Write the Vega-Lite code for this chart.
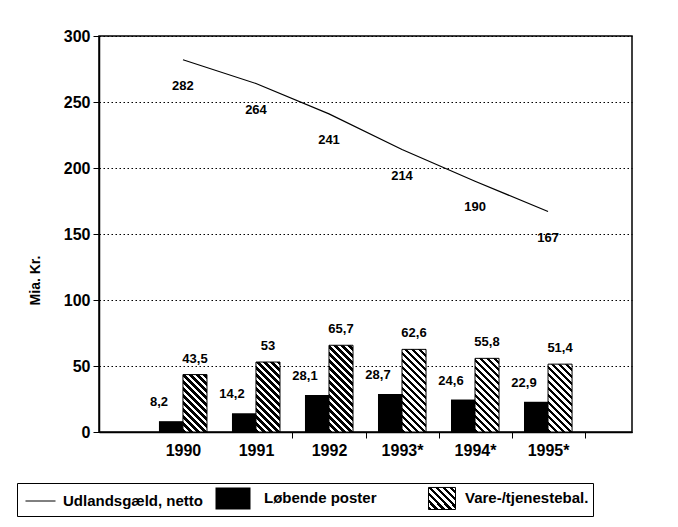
{
  "$schema": "https://vega.github.io/schema/vega-lite/v6.json",
  "width": 533,
  "height": 396,
  "autosize": {"type": "none"},
  "padding": {"left": 99, "top": 36, "right": 46, "bottom": 95},
  "background": "white",
  "params": [
    {"name": "hatchStops", "value": [
      {"offset":0,"color":"#000"},{"offset":0.032353,"color":"#000"},{"offset":0.032353,"color":"#fff"},{"offset":0.058824,"color":"#fff"},
      {"offset":0.058824,"color":"#000"},{"offset":0.091176,"color":"#000"},{"offset":0.091176,"color":"#fff"},{"offset":0.117647,"color":"#fff"},
      {"offset":0.117647,"color":"#000"},{"offset":0.15,"color":"#000"},{"offset":0.15,"color":"#fff"},{"offset":0.176471,"color":"#fff"},
      {"offset":0.176471,"color":"#000"},{"offset":0.208824,"color":"#000"},{"offset":0.208824,"color":"#fff"},{"offset":0.235294,"color":"#fff"},
      {"offset":0.235294,"color":"#000"},{"offset":0.267647,"color":"#000"},{"offset":0.267647,"color":"#fff"},{"offset":0.294118,"color":"#fff"},
      {"offset":0.294118,"color":"#000"},{"offset":0.326471,"color":"#000"},{"offset":0.326471,"color":"#fff"},{"offset":0.352941,"color":"#fff"},
      {"offset":0.352941,"color":"#000"},{"offset":0.385294,"color":"#000"},{"offset":0.385294,"color":"#fff"},{"offset":0.411765,"color":"#fff"},
      {"offset":0.411765,"color":"#000"},{"offset":0.444118,"color":"#000"},{"offset":0.444118,"color":"#fff"},{"offset":0.470588,"color":"#fff"},
      {"offset":0.470588,"color":"#000"},{"offset":0.502941,"color":"#000"},{"offset":0.502941,"color":"#fff"},{"offset":0.529412,"color":"#fff"},
      {"offset":0.529412,"color":"#000"},{"offset":0.561765,"color":"#000"},{"offset":0.561765,"color":"#fff"},{"offset":0.588235,"color":"#fff"},
      {"offset":0.588235,"color":"#000"},{"offset":0.620588,"color":"#000"},{"offset":0.620588,"color":"#fff"},{"offset":0.647059,"color":"#fff"},
      {"offset":0.647059,"color":"#000"},{"offset":0.679412,"color":"#000"},{"offset":0.679412,"color":"#fff"},{"offset":0.705882,"color":"#fff"},
      {"offset":0.705882,"color":"#000"},{"offset":0.738235,"color":"#000"},{"offset":0.738235,"color":"#fff"},{"offset":0.764706,"color":"#fff"},
      {"offset":0.764706,"color":"#000"},{"offset":0.797059,"color":"#000"},{"offset":0.797059,"color":"#fff"},{"offset":0.823529,"color":"#fff"},
      {"offset":0.823529,"color":"#000"},{"offset":0.855882,"color":"#000"},{"offset":0.855882,"color":"#fff"},{"offset":0.882353,"color":"#fff"},
      {"offset":0.882353,"color":"#000"},{"offset":0.914706,"color":"#000"},{"offset":0.914706,"color":"#fff"},{"offset":0.941176,"color":"#fff"},
      {"offset":0.941176,"color":"#000"},{"offset":0.973529,"color":"#000"},{"offset":0.973529,"color":"#fff"},{"offset":1,"color":"#fff"}
    ]}
  ],
  "config": {
    "font": "Liberation Sans",
    "view": {"stroke": "black", "strokeWidth": 1.5},
    "locale": {"number": {"decimal": ",", "thousands": ".", "grouping": [3], "currency": ["", " kr."]}}
  },
  "data": {"values": [
    {"year": "1990", "series": "Udlandsgæld, netto", "value": 282},
    {"year": "1991", "series": "Udlandsgæld, netto", "value": 264},
    {"year": "1992", "series": "Udlandsgæld, netto", "value": 241},
    {"year": "1993*", "series": "Udlandsgæld, netto", "value": 214},
    {"year": "1994*", "series": "Udlandsgæld, netto", "value": 190},
    {"year": "1995*", "series": "Udlandsgæld, netto", "value": 167},
    {"year": "1990", "series": "Løbende poster", "value": 8.2},
    {"year": "1991", "series": "Løbende poster", "value": 14.2},
    {"year": "1992", "series": "Løbende poster", "value": 28.1},
    {"year": "1993*", "series": "Løbende poster", "value": 28.7},
    {"year": "1994*", "series": "Løbende poster", "value": 24.6},
    {"year": "1995*", "series": "Løbende poster", "value": 22.9},
    {"year": "1990", "series": "Vare-/tjenestebal.", "value": 43.5},
    {"year": "1991", "series": "Vare-/tjenestebal.", "value": 53},
    {"year": "1992", "series": "Vare-/tjenestebal.", "value": 65.7},
    {"year": "1993*", "series": "Vare-/tjenestebal.", "value": 62.6},
    {"year": "1994*", "series": "Vare-/tjenestebal.", "value": 55.8},
    {"year": "1995*", "series": "Vare-/tjenestebal.", "value": 51.4}
  ]},
  "encoding": {
    "x": {
      "field": "year", "type": "nominal", "sort": null,
      "scale": {"paddingInner": 0, "paddingOuter": 0.65},
      "axis": {
        "title": null, "labelAngle": 0, "tickBand": "extent", "tickSize": 6,
        "tickColor": "black", "domainColor": "black", "domainWidth": 1.5,
        "tickOpacity": {"condition": {"test": "datum.value === '1990' || datum.extra", "value": 0}, "value": 1},
        "labelFontSize": 16, "labelFontWeight": "bold", "labelColor": "black", "labelPadding": 4,
        "grid": false
      }
    },
    "y": {
      "field": "value", "type": "quantitative", "stack": null,
      "scale": {"domain": [0, 300], "nice": false},
      "axis": {
        "title": "Mia. Kr.", "values": [0, 50, 100, 150, 200, 250, 300],
        "grid": true, "gridDash": [1.5, 2.5], "gridColor": "black", "gridWidth": 1.2, "gridOpacity": 1,
        "domainColor": "black", "domainWidth": 1.5, "tickColor": "black", "tickSize": 6,
        "labelFontSize": 16, "labelFontWeight": "bold", "labelColor": "black", "labelPadding": 3,
        "titleFontSize": 14, "titleFontWeight": "bold", "titleColor": "black",
        "titleX": -64, "titleY": 244, "titleAngle": -90, "titleAlign": "center", "titleBaseline": "middle"
      }
    }
  },
  "layer": [
    {
      "transform": [{"filter": "datum.series === 'Løbende poster'"}],
      "mark": {"type": "bar"},
      "encoding": {
        "xOffset": {"field": "series", "type": "nominal", "scale": {"domain": ["Løbende poster", "Vare-/tjenestebal."], "paddingInner": 0, "paddingOuter": 0.52}},
        "fill": {
          "field": "series", "type": "nominal",
          "scale": {
            "domain": ["Udlandsgæld, netto", "Løbende poster", "Vare-/tjenestebal."],
            "range": ["black", "black", {"expr": "{gradient: 'linear', x1: 0, y1: 1, x2: 2.649, y2: -1.158, stops: hatchStops}"}]
          },
          "legend": {
            "orient": "none", "legendX": -82, "legendY": 447, "direction": "horizontal",
            "columns": 3, "gridAlign": "all", "title": null, "padding": 4,
            "strokeColor": "black", "fillColor": "white", "symbolSize": 441,
            "labelOffset": 20, "columnPadding": 10, "labelFontSize": 15, "labelFontWeight": "bold",
            "labelColor": "black", "labelLimit": 300,
            "encode": {
              "symbols": {"update": {
                "shape": {"signal": "datum.value === 'Udlandsgæld, netto' ? 'M-0.62,0H2.24' : datum.value === 'Løbende poster' ? 'M-1.667,-1.05H1.667V1.05H-1.667Z' : 'M-0.524,-1.05H2.048V1.05H-0.524Z'"},
                "stroke": {"signal": "datum.value === 'Løbende poster' ? 'transparent' : 'black'"},
                "strokeWidth": {"value": 1},
                "opacity": {"value": 1},
                "fillOpacity": {"value": 1}
              }}
            }
          }
        }
      }
    },
    {
      "transform": [{"filter": "datum.series === 'Vare-/tjenestebal.'"}],
      "mark": {
        "type": "bar", "stroke": "black", "strokeWidth": 1,
        "fill": {"expr": "{gradient: 'linear', x1: 0, y1: 1, x2: 119*bandwidth('xOffset')/(pow(bandwidth('xOffset'),2)+pow(scale('y',0)-scale('y',datum.value),2)), y2: 1-119*(scale('y',0)-scale('y',datum.value))/(pow(bandwidth('xOffset'),2)+pow(scale('y',0)-scale('y',datum.value),2)), stops: hatchStops}"}
      },
      "encoding": {
        "xOffset": {"field": "series", "type": "nominal"}
      }
    },
    {
      "transform": [{"filter": "datum.series === 'Udlandsgæld, netto'"}],
      "mark": {"type": "line", "color": "black", "strokeWidth": 1.2}
    },
    {
      "transform": [{"filter": "datum.series === 'Udlandsgæld, netto'"}],
      "mark": {"type": "text", "dy": 26, "baseline": "middle", "fontSize": 13, "fontWeight": "bold", "color": "black"},
      "encoding": {"text": {"field": "value", "type": "quantitative", "format": ".3~r"}}
    },
    {
      "transform": [{"filter": "datum.series === 'Løbende poster'"}],
      "mark": {"type": "text", "dx": -12, "dy": -12, "baseline": "bottom", "fontSize": 13, "fontWeight": "bold", "color": "black"},
      "encoding": {
        "xOffset": {"field": "series", "type": "nominal"},
        "text": {"field": "value", "type": "quantitative", "format": ".3~r"}
      }
    },
    {
      "transform": [{"filter": "datum.series === 'Vare-/tjenestebal.'"}],
      "mark": {"type": "text", "dy": -9, "baseline": "bottom", "fontSize": 13, "fontWeight": "bold", "color": "black"},
      "encoding": {
        "xOffset": {"field": "series", "type": "nominal"},
        "text": {"field": "value", "type": "quantitative", "format": ".3~r"}
      }
    }
  ]
}
